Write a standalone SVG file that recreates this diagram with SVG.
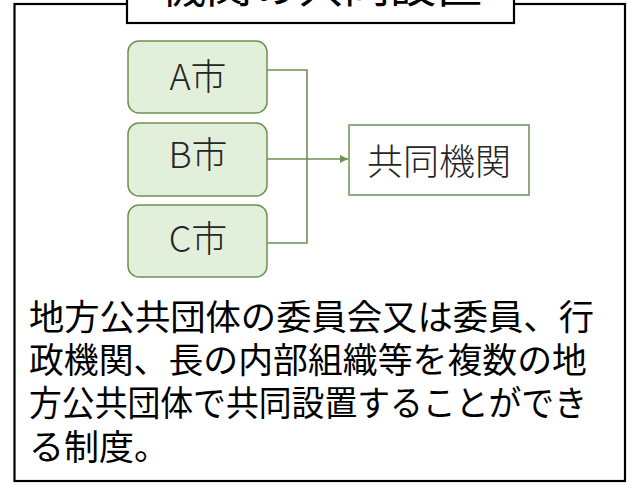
<svg xmlns="http://www.w3.org/2000/svg" width="630" height="485" viewBox="0 0 630 485">
<style>
.frame{fill:#fff;stroke:#000;stroke-width:2.2}
.city rect{fill:#e2efda;stroke:#6f9150;stroke-width:1.5}
.city text,.org text{font-family:"Noto Sans CJK JP","Noto Sans",sans-serif;font-size:36px;font-weight:300;fill:#262626;text-anchor:middle}
.org rect{fill:#fff;stroke:#6f9150;stroke-width:1.5}
.conn{fill:none;stroke:#6f9150;stroke-width:1.6}
.body{font-family:"Noto Sans CJK JP",sans-serif;font-size:35px;fill:#000}
.title{font-family:"Noto Sans CJK JP",sans-serif;font-size:46px;fill:#000;text-anchor:middle}
</style>
<defs>
<marker id="arr" viewBox="0 0 10 10" refX="10" refY="5" markerWidth="8" markerHeight="8" markerUnits="userSpaceOnUse" orient="auto">
<path d="M0,0 L10,5 L0,10 Z" fill="#6f9150"/>
</marker>
</defs>
<rect width="630" height="485" fill="#fff"/>
<g id="outer">
<rect class="frame" x="14.5" y="4" width="610.5" height="477"/>
</g>
<g id="title">
<rect class="frame" x="127" y="-10" width="387" height="33"/>
<text class="title" x="321" y="2">機関の共同設置</text>
</g>
<g id="connectors">
<path class="conn" d="M267,70 H307 V243 H267"/>
<path class="conn" d="M267,159 H348" marker-end="url(#arr)"/>
</g>
<g id="cityA" class="city">
<rect x="128" y="41" width="139" height="72" rx="11"/>
<text x="198" y="90">A市</text>
</g>
<g id="cityB" class="city">
<rect x="128" y="123" width="139" height="73" rx="11"/>
<text x="198" y="168">B市</text>
</g>
<g id="cityC" class="city">
<rect x="128" y="205" width="139" height="72" rx="11"/>
<text x="198" y="252">C市</text>
</g>
<g id="kyodo" class="org">
<rect x="349" y="125" width="180" height="70"/>
<text x="439" y="175">共同機関</text>
</g>
<g id="description">
<text class="body" x="29" y="330" textLength="565" lengthAdjust="spacingAndGlyphs">地方公共団体の委員会又は委員、行</text>
<text class="body" x="29" y="373" textLength="558" lengthAdjust="spacingAndGlyphs">政機関、長の内部組織等を複数の地</text>
<text class="body" x="29" y="416" textLength="558" lengthAdjust="spacingAndGlyphs">方公共団体で共同設置することができ</text>
<text class="body" x="29" y="460">る制度。</text>
</g>
</svg>
